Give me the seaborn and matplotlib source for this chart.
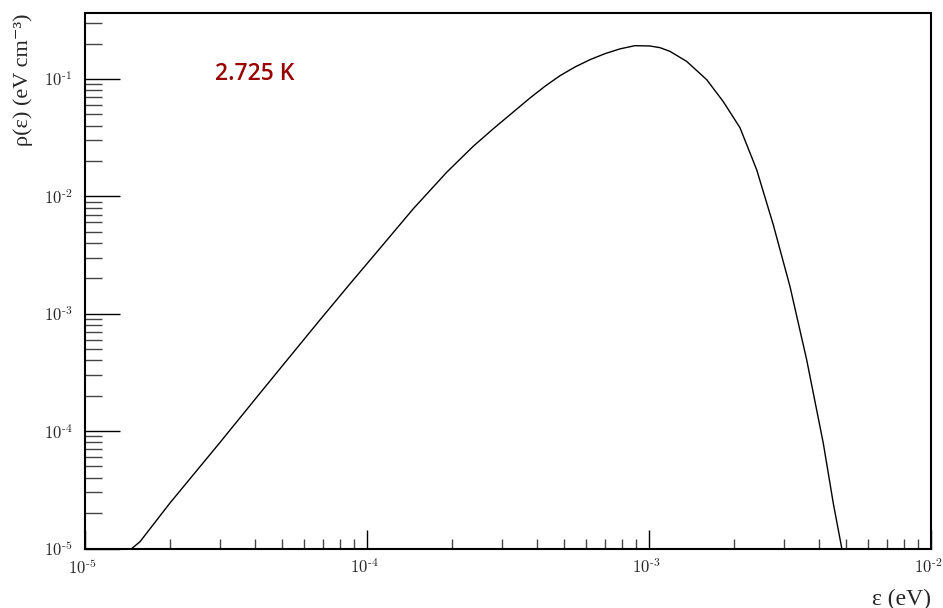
import matplotlib
matplotlib.use("Agg")
import matplotlib.pyplot as plt
import matplotlib.transforms as mtransforms
import seaborn as sns
import pandas as pd
from matplotlib.ticker import FixedLocator, NullFormatter

# ---- data (energy in eV, density in eV cm^-3) ----
energy = [1.468e-5, 1.567e-5, 2.002e-5, 3.011e-5, 3.952e-5, 5.049e-5, 6.813e-5,
          8.703e-5, 1.112e-4, 1.459e-4, 1.917e-4, 2.382e-4, 2.805e-4, 3.784e-4,
          4.279e-4, 4.835e-4, 5.464e-4, 6.175e-4, 6.979e-4, 7.887e-4, 8.913e-4,
          1.008e-3, 1.094e-3, 1.187e-3, 1.360e-3, 1.602e-3, 1.835e-3, 2.102e-3,
          2.409e-3, 2.759e-3, 3.162e-3, 3.624e-3, 4.150e-3, 4.503e-3, 4.826e-3]
density = [1.004e-5, 1.143e-5, 2.443e-5, 8.01e-5, 1.791e-4, 3.683e-4, 8.871e-4,
           1.799e-3, 3.611e-3, 7.84e-3, 1.605e-2, 2.674e-2, 3.770e-2, 6.887e-2,
           8.682e-2, 1.0669e-1, 1.2657e-1, 1.4606e-1, 1.6434e-1, 1.8053e-1,
           1.9226e-1, 1.9113e-1, 1.8487e-1, 1.7191e-1, 1.4127e-1, 9.864e-2,
           6.403e-2, 3.845e-2, 1.6856e-2, 5.727e-3, 1.7055e-3, 4.0455e-4,
           7.887e-5, 2.428e-5, 1.004e-5]

x_major = [1e-5, 1e-4, 1e-3, 1e-2]
x_major_labels = [r"$10^{\text{-}5}$", r"$10^{\text{-}4}$", r"$10^{\text{-}3}$", r"$10^{\text{-}2}$"]
y_major = [1e-5, 1e-4, 1e-3, 1e-2, 1e-1]
y_major_labels = [r"$10^{\text{-}5}$", r"$10^{\text{-}4}$", r"$10^{\text{-}3}$",
                  r"$10^{\text{-}2}$", r"$10^{\text{-}1}$"]
x_label = "ε (eV)"
y_label = "ρ(ε) (eV cm⁻³)"
annotation = "2.725 K"

df = pd.DataFrame({"energy": energy, "density": density})

sns.set_theme(style="white")
plt.rcParams["mathtext.fontset"] = "cm"
plt.rcParams["font.family"] = ["Liberation Serif", "DejaVu Serif"]

fig = plt.figure(figsize=(9.43, 6.08), dpi=100)
ax = fig.add_axes([85 / 943, 1 - 548.5 / 608, 846 / 943, 535.5 / 608])

sns.lineplot(data=df, x="energy", y="density", ax=ax, color="black",
             linewidth=1.0, sort=False, estimator=None)
for ln in ax.get_lines():
    ln.set_solid_joinstyle("round")

ax.set_xscale("log")
ax.set_yscale("log")
ax.set_xlim(1e-5, 1e-2)
ax.set_ylim(1e-5, 0.365)

# ticks
ax.xaxis.set_major_locator(FixedLocator(x_major))
ax.set_xticklabels(x_major_labels)
ax.yaxis.set_major_locator(FixedLocator(y_major))
ax.set_yticklabels(y_major_labels)
xminor = [m * 10.0 ** e for e in range(-5, -2) for m in range(2, 10)]
yminor = [m * 10.0 ** e for e in range(-5, 0) for m in range(2, 10)]
ax.xaxis.set_minor_locator(FixedLocator(xminor))
ax.yaxis.set_minor_locator(FixedLocator(yminor))
ax.xaxis.set_minor_formatter(NullFormatter())
ax.yaxis.set_minor_formatter(NullFormatter())

ax.tick_params(axis="x", which="major", direction="in", length=14, width=1.0,
               color="black", labelsize=12, pad=7, bottom=True, top=False)
ax.tick_params(axis="x", which="minor", direction="in", length=7, width=1.0,
               color="#444444", bottom=True, top=False)
ax.tick_params(axis="y", which="major", direction="in", length=25, width=1.0,
               color="black", labelsize=12, pad=9, left=True, right=False)
ax.tick_params(axis="y", which="minor", direction="in", length=12, width=1.0,
               color="#444444", left=True, right=False)

# shift x tick labels slightly left (ROOT-style placement)
offset = mtransforms.ScaledTranslation(-3 / 100, 0, fig.dpi_scale_trans)
for lbl in ax.get_xticklabels():
    lbl.set_transform(lbl.get_transform() + offset)

for s in ax.spines.values():
    s.set_visible(True)
    s.set_color("black")
    s.set_linewidth(1.5)

ax.set_xlabel(x_label, fontsize=17, loc="right")
ax.xaxis.set_label_coords(1.0, -0.075)
ax.set_ylabel(y_label, fontsize=16, loc="top")
ax.yaxis.set_label_coords(-0.0615, 1.0)

ax.text(0.1537, 0.886, annotation, transform=ax.transAxes, ha="left",
        va="center", fontsize=16.5, color="#990000", family="Open Sans",
        fontweight="semibold")

ax.grid(False)
ax.set_facecolor("white")
fig.patch.set_facecolor("white")
fig.savefig("out.png", dpi=100)
